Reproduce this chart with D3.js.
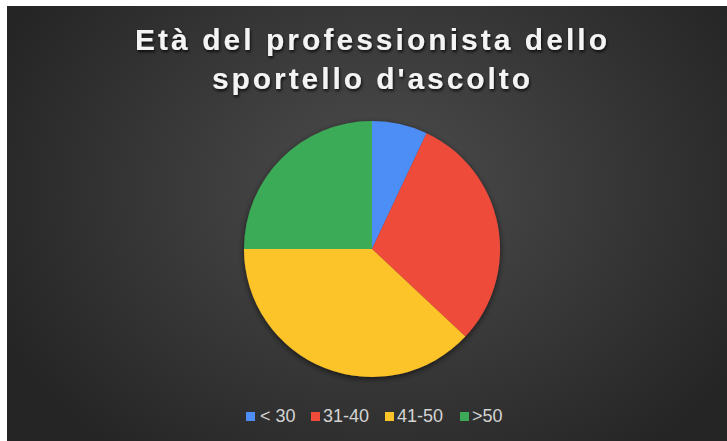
<!DOCTYPE html>
<html>
<head>
<meta charset="utf-8">
<script src="https://cdn.jsdelivr.net/npm/d3@7"></script>
<style>
  body { margin: 0; background: #fff; }
  svg { display: block; }
</style>
</head>
<body>
<div id="chart"></div>
<script>
// Chart data
var categories = ["< 30", "31-40", "41-50", ">50"];
var values = [7, 30, 38, 25];
var colorsTop = ["#4d8df6", "#ee4b3b", "#fdc42a", "#3bab58"];
var colorsBottom = ["#3775e6", "#dc2c1d", "#f5b900", "#289846"];
var titleLines = ["Età del professionista dello", "sportello d'ascolto"];

var svgWidth = 727;
var svgHeight = 441;

var svg = d3.select("#chart")
  .append("svg")
  .attr("width", svgWidth)
  .attr("height", svgHeight);

var defs = svg.append("defs");

// Background radial gradient
var bg = defs.append("radialGradient")
  .attr("id", "bg")
  .attr("gradientUnits", "userSpaceOnUse")
  .attr("cx", 380).attr("cy", 190).attr("r", 420)
  .attr("gradientTransform", "translate(380,190) scale(1,0.8) translate(-380,-190)");
bg.append("stop").attr("offset", "0%").attr("stop-color", "#4d4d4d");
bg.append("stop").attr("offset", "100%").attr("stop-color", "#252525");

svg.append("rect")
  .attr("x", 7).attr("y", 6)
  .attr("width", svgWidth - 7).attr("height", svgHeight - 6)
  .attr("fill", "url(#bg)");

// Shadows
var ts = defs.append("filter").attr("id", "textShadow")
  .attr("x", "-10%").attr("y", "-30%").attr("width", "120%").attr("height", "160%");
ts.append("feDropShadow")
  .attr("dx", 1).attr("dy", 2).attr("stdDeviation", 1.5)
  .attr("flood-color", "#000").attr("flood-opacity", 0.8);

var ps = defs.append("filter").attr("id", "pieShadow")
  .attr("x", "-10%").attr("y", "-10%").attr("width", "120%").attr("height", "120%");
ps.append("feDropShadow")
  .attr("dx", 0).attr("dy", 2).attr("stdDeviation", 3)
  .attr("flood-color", "#000").attr("flood-opacity", 0.6);

// Title
var titleWidths = [472, 318];
var title = svg.append("g").attr("filter", "url(#textShadow)");
title.selectAll("text")
  .data(titleLines)
  .enter()
  .append("text")
  .attr("x", 371)
  .attr("y", (d, i) => 50 + i * 39)
  .attr("text-anchor", "middle")
  .attr("textLength", (d, i) => titleWidths[i])
  .attr("lengthAdjust", "spacing")
  .style("font-family", "'Liberation Sans', Arial, sans-serif")
  .style("font-weight", "bold")
  .style("font-size", "30px")
  .style("fill", "#f4f4f4")
  .text(d => d);

// Pie
var cx = 372, cy = 249, radius = 128;

categories.forEach(function (c, i) {
  var g = defs.append("linearGradient")
    .attr("id", "slice" + i)
    .attr("gradientUnits", "userSpaceOnUse")
    .attr("x1", 0).attr("y1", cy - radius)
    .attr("x2", 0).attr("y2", cy + radius);
  g.append("stop").attr("offset", "0%").attr("stop-color", colorsTop[i]);
  g.append("stop").attr("offset", "100%").attr("stop-color", colorsBottom[i]);
});

var pie = d3.pie().sort(null).value(d => d);
var arc = d3.arc().innerRadius(0).outerRadius(radius);

var pieGroup = svg.append("g")
  .attr("transform", `translate(${cx}, ${cy})`)
  .attr("filter", "url(#pieShadow)");

pieGroup.selectAll("path")
  .data(pie(values))
  .enter()
  .append("path")
  .attr("d", arc)
  .attr("fill", (d, i) => `url(#slice${i})`);

// Legend
var legendX = [246, 311, 385, 460];
var legend = svg.append("g");
var items = legend.selectAll("g")
  .data(categories)
  .enter()
  .append("g")
  .attr("transform", (d, i) => `translate(${legendX[i]}, 412)`);

items.append("rect")
  .attr("width", 9).attr("height", 9)
  .attr("fill", (d, i) => colorsTop[i]);

items.append("text")
  .attr("x", (d, i) => i === 0 ? 14 : 12)
  .attr("y", 9.5)
  .style("font-family", "'Liberation Sans', Arial, sans-serif")
  .style("font-size", "18px")
  .style("fill", "#d4d4d4")
  .text(d => d);
</script>
</body>
</html>
